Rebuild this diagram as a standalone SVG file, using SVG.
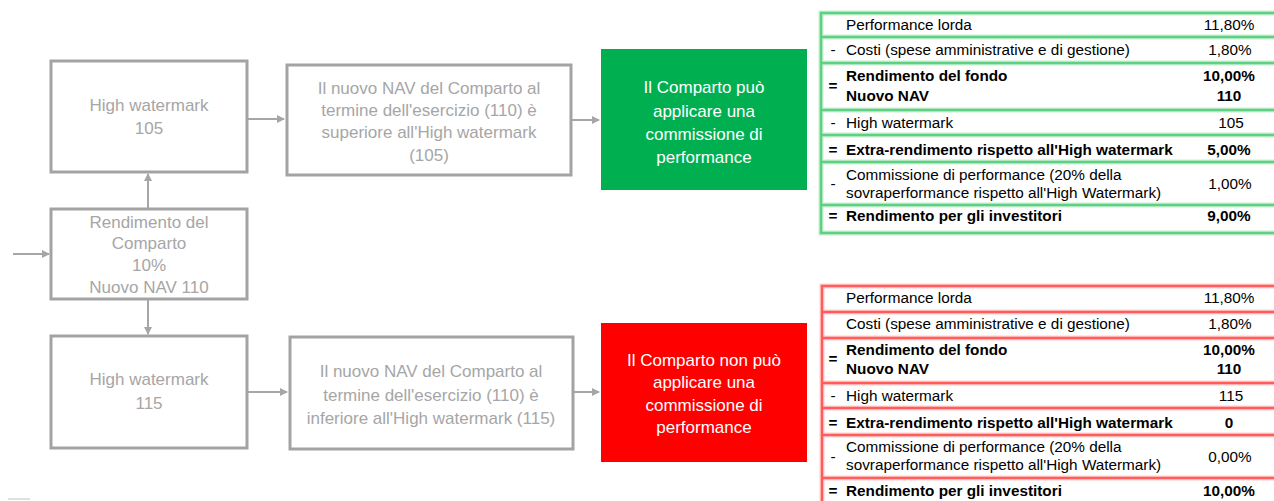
<svg xmlns="http://www.w3.org/2000/svg" width="1274" height="501" viewBox="0 0 1274 501">
<defs>
<marker id="ah" markerWidth="8" markerHeight="8" refX="7" refY="4" orient="auto" markerUnits="userSpaceOnUse">
<path d="M0,0 L8,4 L0,8 Z" fill="#a6a6a6"/>
</marker>
<style>
.gb{fill:#fff;stroke:#a3a3a3;stroke-width:3}
.gt{font-family:"Liberation Sans",Arial,sans-serif;font-size:17px;fill:#a6a6a6;text-anchor:middle}
.wt{font-family:"Liberation Sans",Arial,sans-serif;font-size:17px;fill:#fff;text-anchor:middle}
.cn{stroke:#a6a6a6;stroke-width:2;fill:none}
.tt{font-family:"Liberation Sans",Arial,sans-serif;font-size:15.3px;fill:#000}
.tb{font-family:"Liberation Sans",Arial,sans-serif;font-size:15.3px;fill:#000;font-weight:bold}
.tv{text-anchor:middle}
.gl{stroke:#5fcf82;stroke-width:2.5;fill:none}
.gl2{stroke:#c8f0d4;stroke-width:5;fill:none}
.rl{stroke:#ff5c5c;stroke-width:2.5;fill:none}
.rl2{stroke:#ffd0d0;stroke-width:5;fill:none}
</style>
</defs>

<g id="connectors">
<line class="cn" x1="13" y1="254" x2="49" y2="254" marker-end="url(#ah)"/>
<line class="cn" x1="148" y1="208" x2="148" y2="174" marker-end="url(#ah)"/>
<line class="cn" x1="148" y1="300" x2="148" y2="334" marker-end="url(#ah)"/>
<line class="cn" x1="248" y1="119" x2="284" y2="119" marker-end="url(#ah)"/>
<line class="cn" x1="248" y1="392" x2="287" y2="392" marker-end="url(#ah)"/>
<line class="cn" x1="572" y1="120" x2="599" y2="120" marker-end="url(#ah)"/>
<line class="cn" x1="574" y1="392" x2="599" y2="392" marker-end="url(#ah)"/>
<line x1="8" y1="499" x2="30" y2="499" stroke="#e0e0e0" stroke-width="2"/>
</g>

<g id="hw105">
<rect class="gb" x="51" y="61" width="196" height="111"/>
<text class="gt" x="149" y="111">High watermark</text>
<text class="gt" x="149" y="134">105</text>
</g>

<g id="rendimento">
<rect class="gb" x="51" y="209" width="196" height="90"/>
<text class="gt" x="149" y="228">Rendimento del</text>
<text class="gt" x="149" y="249">Comparto</text>
<text class="gt" x="149" y="271">10%</text>
<text class="gt" x="149" y="293">Nuovo NAV 110</text>
</g>

<g id="hw115">
<rect class="gb" x="51" y="336" width="196" height="112"/>
<text class="gt" x="149" y="385">High watermark</text>
<text class="gt" x="149" y="409">115</text>
</g>

<g id="nav-sup">
<rect class="gb" x="287" y="65" width="284" height="110"/>
<text class="gt" x="429" y="94">Il nuovo NAV del Comparto al</text>
<text class="gt" x="429" y="116">termine dell'esercizio (110) è</text>
<text class="gt" x="429" y="138">superiore all'High watermark</text>
<text class="gt" x="429" y="161">(105)</text>
</g>

<g id="nav-inf">
<rect class="gb" x="290" y="337" width="283" height="112"/>
<text class="gt" x="431" y="377">Il nuovo NAV del Comparto al</text>
<text class="gt" x="431" y="401">termine dell'esercizio (110) è</text>
<text class="gt" x="431" y="424">inferiore all'High watermark (115)</text>
</g>

<g id="green-box">
<rect x="601" y="49" width="206" height="141" fill="#00b050"/>
<text class="wt" x="704" y="93">Il Comparto può</text>
<text class="wt" x="704" y="117">applicare una</text>
<text class="wt" x="704" y="140">commissione di</text>
<text class="wt" x="704" y="163">performance</text>
</g>

<g id="red-box">
<rect x="601" y="323" width="206" height="139" fill="#ff0000"/>
<text class="wt" x="704" y="366">Il Comparto non può</text>
<text class="wt" x="704" y="388">applicare una</text>
<text class="wt" x="704" y="411">commissione di</text>
<text class="wt" x="704" y="433">performance</text>
</g>

<g id="green-table">
<path class="gl2" d="M1276,13 H821 V233 H1276 M821,37 H1276 M821,63 H1276 M821,110 H1276 M821,135 H1276 M821,162 H1276 M821,205 H1276"/>
<path class="gl" d="M1276,13 H821 V233 H1276 M821,37 H1276 M821,63 H1276 M821,110 H1276 M821,135 H1276 M821,162 H1276 M821,205 H1276"/>
<text class="tt" x="846" y="30">Performance lorda</text>
<text class="tt tv" x="1229" y="30">11,80%</text>
<text class="tt tv" x="833" y="55">-</text>
<text class="tt" x="846" y="55">Costi (spese amministrative e di gestione)</text>
<text class="tt tv" x="1230" y="55">1,80%</text>
<text class="tb tv" x="833" y="91">=</text>
<text class="tb" x="846" y="81">Rendimento del fondo</text>
<text class="tb tv" x="1229" y="81">10,00%</text>
<text class="tb" x="846" y="101">Nuovo NAV</text>
<text class="tb tv" x="1229" y="101">110</text>
<text class="tt tv" x="833" y="128">-</text>
<text class="tt" x="846" y="128">High watermark</text>
<text class="tt tv" x="1231" y="128">105</text>
<text class="tb tv" x="833" y="155">=</text>
<text class="tb" x="846" y="155">Extra-rendimento rispetto all'High watermark</text>
<text class="tb tv" x="1229" y="155">5,00%</text>
<text class="tt tv" x="833" y="189">-</text>
<text class="tt" x="846" y="180">Commissione di performance (20% della</text>
<text class="tt" x="846" y="198">sovraperformance rispetto all'High Watermark)</text>
<text class="tt tv" x="1230" y="189">1,00%</text>
<text class="tb tv" x="833" y="221">=</text>
<text class="tb" x="846" y="221">Rendimento per gli investitori</text>
<text class="tb tv" x="1229" y="221">9,00%</text>
</g>

<g id="red-table">
<path class="rl2" d="M1276,286 H822 V503 M822,312 H1276 M822,338 H1276 M822,383 H1276 M822,408 H1276 M822,435 H1276 M822,478 H1276"/>
<path class="rl" d="M1276,286 H822 V503 M822,312 H1276 M822,338 H1276 M822,383 H1276 M822,408 H1276 M822,435 H1276 M822,478 H1276"/>
<text class="tt" x="846" y="303">Performance lorda</text>
<text class="tt tv" x="1229" y="303">11,80%</text>
<text class="tt" x="846" y="329">Costi (spese amministrative e di gestione)</text>
<text class="tt tv" x="1230" y="329">1,80%</text>
<text class="tb tv" x="833" y="364">=</text>
<text class="tb" x="846" y="355">Rendimento del fondo</text>
<text class="tb tv" x="1229" y="355">10,00%</text>
<text class="tb" x="846" y="374">Nuovo NAV</text>
<text class="tb tv" x="1229" y="374">110</text>
<text class="tt tv" x="833" y="401">-</text>
<text class="tt" x="846" y="401">High watermark</text>
<text class="tt tv" x="1231" y="401">115</text>
<text class="tb tv" x="833" y="428">=</text>
<text class="tb" x="846" y="428">Extra-rendimento rispetto all'High watermark</text>
<text class="tb tv" x="1229" y="428">0</text>
<text class="tt tv" x="833" y="462">-</text>
<text class="tt" x="846" y="452">Commissione di performance (20% della</text>
<text class="tt" x="846" y="470">sovraperformance rispetto all'High Watermark)</text>
<text class="tt tv" x="1230" y="462">0,00%</text>
<text class="tb tv" x="833" y="496">=</text>
<text class="tb" x="846" y="496">Rendimento per gli investitori</text>
<text class="tb tv" x="1229" y="496">10,00%</text>
</g>
</svg>
